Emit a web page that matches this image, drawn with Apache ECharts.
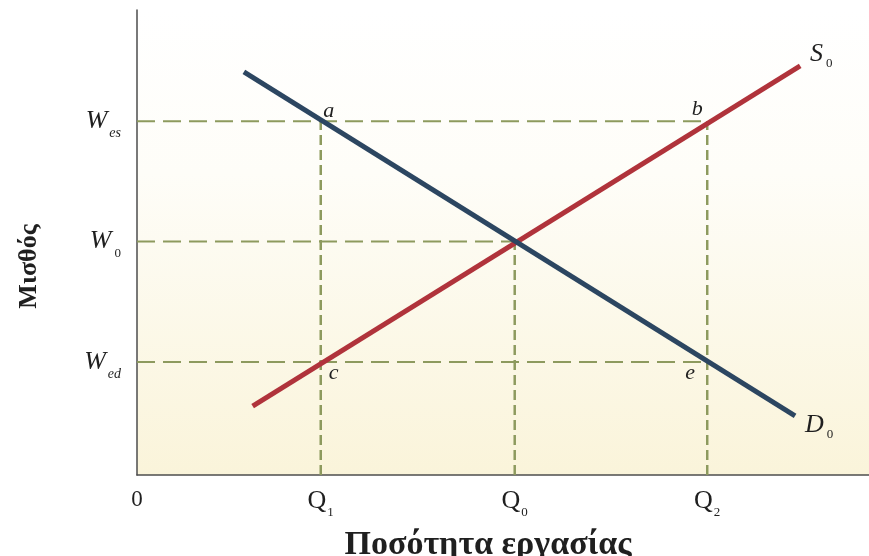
<!DOCTYPE html>
<html>
<head>
<meta charset="utf-8">
<script src="https://cdn.jsdelivr.net/npm/echarts@6/dist/echarts.min.js"></script>
<style>
  html, body { margin: 0; padding: 0; background: #fff; }
  #chart { width: 869px; height: 556px; }
</style>
</head>
<body>
<div id="chart"></div>
<script>
// positions on the quantity axis (0..100) and the wage axis (0..100)
const qValues = [0, 25.1, 51.6, 77.9]
const qNames = ['0', 'Q1', 'Q0', 'Q2']
const wValues = [24.3, 50.2, 76.1]
const wSubs = ['ed', '0', 'es']

// demand D0 and supply S0 end points
const demandX = [14.6, 89.9]
const demandY = [86.7, 12.7]
const supplyX = [15.8, 90.6]
const supplyY = [14.8, 88.0]

// marked points
const pointNames = ['a', 'b', 'c', 'e']
const pointX = [25.1, 77.9, 25.1, 77.9]
const pointY = [76.1, 76.1, 24.3, 24.3]

// dashed guides: horizontal [wage, x end], vertical [quantity, y end]
const hGuides = [[76.1, 77.9], [50.2, 51.6], [24.3, 77.9]]
const vGuides = [[25.1, 76.1], [51.6, 50.2], [77.9, 76.1]]

const serif = "'Liberation Serif', 'Times New Roman', serif"
const ink = '#1f1f1f'
const guideColor = '#8d9a5e'

const chart = echarts.init(document.getElementById('chart'))

const guideSeries = [
  ...hGuides.map(([y, xEnd]) => ({
    type: 'line',
    silent: true,
    symbol: 'none',
    data: [[0, y], [xEnd, y]],
    lineStyle: { color: guideColor, width: 2, type: [18, 8] },
    z: 1
  })),
  ...vGuides.map(([x, yEnd]) => ({
    type: 'line',
    silent: true,
    symbol: 'none',
    data: [[x, 0], [x, yEnd]],
    lineStyle: { color: guideColor, width: 2.5, type: [10, 5] },
    z: 1
  }))
]

// label offsets from each marked point
const labelOffset = {
  a: [8, -10], b: [-10, -12], c: [13, 11], e: [-17, 11], S: [21, -12], D: [24, 9]
}

const curveEnds = [
  { name: 'S', value: [supplyX[1], supplyY[1]] },
  { name: 'D', value: [demandX[1], demandY[1]] }
]

const noStroke = { textBorderWidth: 0, textBorderColor: 'transparent' }

chart.setOption({
  animation: false,
  backgroundColor: '#ffffff',
  grid: {
    left: 137, right: 0, top: 10, bottom: 81,
    outerBoundsMode: 'none',
    containLabel: false,
    show: true,
    borderWidth: 0,
    backgroundColor: new echarts.graphic.LinearGradient(0, 0, 0, 1, [
      { offset: 0, color: '#ffffff' },
      { offset: 0.35, color: '#fefdf8' },
      { offset: 1, color: '#faf4da' }
    ])
  },
  xAxis: {
    type: 'value',
    min: 0,
    max: 100,
    splitLine: { show: false },
    axisTick: { show: false },
    axisLine: { show: true, lineStyle: { color: '#4d4d4d', width: 1.5 } },
    axisLabel: {
      customValues: qValues,
      margin: 8,
      color: ink,
      formatter: (v) => {
        const i = qValues.findIndex(q => Math.abs(q - v) < 0.01)
        if (i < 0) return ''
        const n = qNames[i]
        if (n === '0') return '{n|0}'
        return '{q|Q}{s|' + n.slice(1) + '}'
      },
      rich: {
        n: { fontFamily: serif, fontSize: 23, lineHeight: 34, color: ink },
        q: { fontFamily: serif, fontSize: 26, lineHeight: 36, color: ink },
        s: { fontFamily: serif, fontSize: 13, lineHeight: 12, verticalAlign: 'bottom', color: ink, padding: [0, 0, 0, 1] }
      }
    },
    name: 'Ποσότητα εργασίας',
    nameLocation: 'middle',
    nameGap: 53,
    nameTextStyle: {
      fontFamily: serif,
      fontWeight: 'bold',
      fontSize: 34,
      color: ink,
      padding: [0, 30, 0, 0]
    }
  },
  yAxis: {
    type: 'value',
    min: 0,
    max: 100,
    splitLine: { show: false },
    axisTick: { show: false },
    axisLine: { show: true, lineStyle: { color: '#4d4d4d', width: 1.5 } },
    axisLabel: {
      customValues: wValues,
      margin: 16,
      color: ink,
      formatter: (v) => {
        const i = wValues.findIndex(w => Math.abs(w - v) < 0.01)
        if (i < 0) return ''
        const sub = wSubs[i]
        return '{w|W}' + (sub === '0' ? '{z|0}' : '{s|' + sub + '}')
      },
      rich: {
        w: { fontFamily: serif, fontStyle: 'italic', fontSize: 26, lineHeight: 38, color: ink },
        s: { fontFamily: serif, fontStyle: 'italic', fontSize: 14, lineHeight: 12, verticalAlign: 'bottom', color: ink, padding: [0, 0, 0, 2] },
        z: { fontFamily: serif, fontSize: 13, lineHeight: 12, verticalAlign: 'bottom', color: ink, padding: [0, 0, 0, 3] }
      }
    },
    name: 'Μισθός',
    nameLocation: 'middle',
    nameGap: 95,
    nameRotate: 90,
    nameTextStyle: {
      fontFamily: serif,
      fontWeight: 'bold',
      fontSize: 26,
      color: ink,
      padding: [0, 48, 0, 0]
    }
  },
  series: [
    ...guideSeries,
    {
      name: 'S0',
      type: 'line',
      symbol: 'none',
      silent: true,
      data: supplyX.map((x, i) => [x, supplyY[i]]),
      lineStyle: { color: '#b0333b', width: 5, cap: 'butt' },
      z: 3
    },
    {
      name: 'D0',
      type: 'line',
      symbol: 'none',
      silent: true,
      data: demandX.map((x, i) => [x, demandY[i]]),
      lineStyle: { color: '#2c4661', width: 5, cap: 'butt' },
      z: 4
    },
    {
      type: 'scatter',
      symbolSize: 0,
      silent: true,
      z: 5,
      itemStyle: { opacity: 1 },
      data: [
        ...pointNames.map((n, i) => ({ name: n, value: [pointX[i], pointY[i]] })),
        ...curveEnds
      ].map(d => ({
        ...d,
        label: { offset: labelOffset[d.name] }
      })),
      label: {
        show: true,
        position: 'inside',
        align: 'center',
        verticalAlign: 'middle',
        color: ink,
        opacity: 1,
        ...noStroke,
        formatter: (p) => {
          if (p.name === 'S' || p.name === 'D') return '{L|' + p.name + '}{s|0}'
          return '{p|' + p.name + '}'
        },
        rich: {
          p: { fontFamily: serif, fontStyle: 'italic', fontSize: 22, color: ink, ...noStroke },
          L: { fontFamily: serif, fontStyle: 'italic', fontSize: 26, lineHeight: 32, color: ink, ...noStroke },
          s: { fontFamily: serif, fontSize: 13, lineHeight: 12, verticalAlign: 'bottom', color: ink, padding: [0, 0, 0, 3], ...noStroke }
        }
      }
    }
  ]
})
</script>
</body>
</html>
